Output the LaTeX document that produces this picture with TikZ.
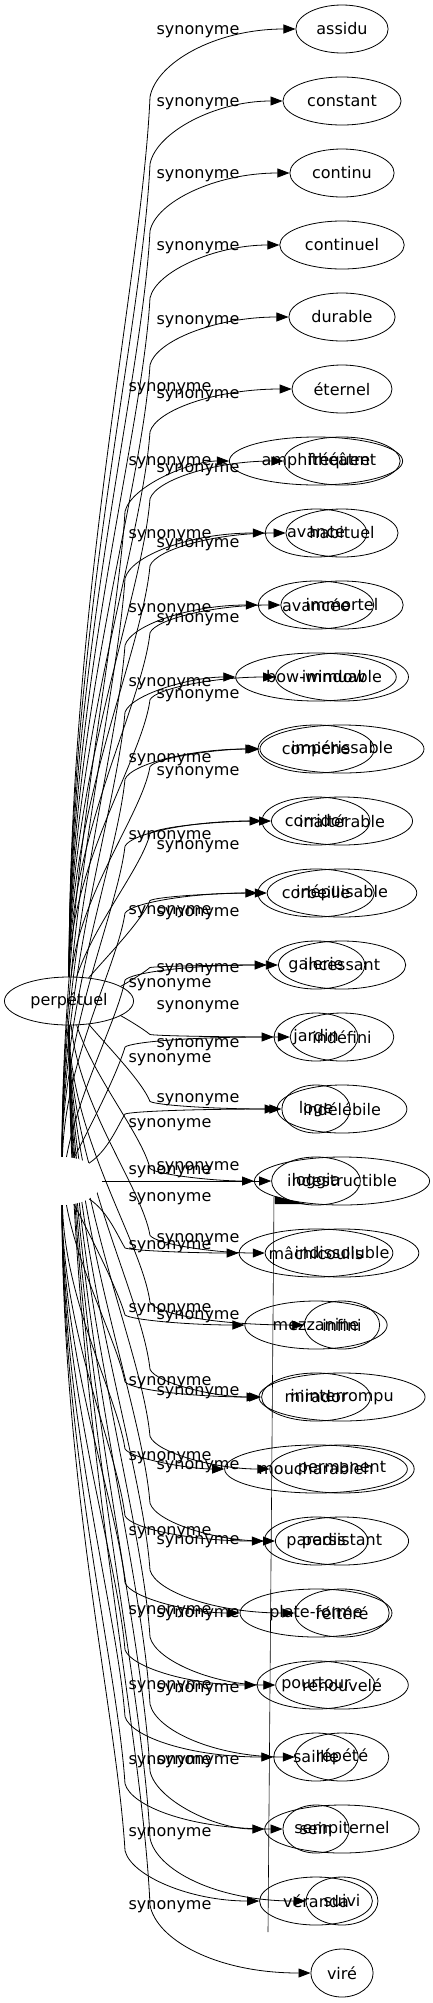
\documentclass[tikz,border=0pt]{standalone}
\usepackage{fontspec}
\setmainfont{DejaVu Sans}
\usetikzlibrary{shapes.geometric,arrows.meta}
\tikzset{
  word/.style={draw, ellipse, line width=0.8pt, minimum height=48pt, inner xsep=7pt, inner ysep=0pt, font=\fontsize{16}{19}\selectfont},
  syn/.style={-{Triangle[length=12pt,width=9pt]}, line width=0.8pt},
  lbl/.style={inner sep=0pt, font=\fontsize{16}{19}\selectfont},
}
\begin{document}
\begin{tikzpicture}[x=1pt,y=-1pt]
\useasboundingbox (0,0) rectangle (432,2003);
% first tree
\node[word] (perp) at (69,1001) {perpétuel};
\foreach \w [count=\k from 0] in {assidu,constant,continu,continuel,durable,éternel,fréquent,habituel,immortel,immuable,impérissable,inaltérable,inépuisable,incessant,indéfini,indélébile,indestructible,indissoluble,infini,ininterrompu,permanent,persistant,réitéré,renouvelé,répété,sempiternel,suivi,viré}
  \node[word] (w\k) at (342,29+72*\k) {\w};
\foreach \k in {0,...,27}{
  \pgfmathsetmacro\ty{29+72*\k}
  \pgfmathsetmacro\dd{\ty-1001}
  \pgfmathsetmacro\my{\ty-0.07*\dd}
  \pgfmathsetmacro\ax{69+60*(1-min(abs(\dd),300)/300)}
  \pgfmathsetmacro\ay{1001+0.45*(\my-1001)}
  \pgfmathsetmacro\by{\my-0.2*(\my-1001)}
  \pgfmathsetmacro\cy{\my-0.5*(\my-\ty)}
  \draw[syn] (perp) .. controls (\ax,\ay) and (142,\by) .. (150,\my)
    .. controls (156,\cy) and (215,\ty) .. (w\k);
}
\foreach \y in {32,104,176,248,322,396,470,545,620,696,773,847,914,970,1007,1045,1100,1168,1240,1317,1393,1467,1542,1615,1690,1762}
  \node[lbl] (la\y) at (198,\y) {synonyme};
% second tree, drawn over the first
\node[ellipse, fill=white, minimum width=80pt, minimum height=48pt] (bal) at (62,1181) {};
\foreach \w [count=\k from 6] in {amphithéâtre,avance,avancée,bow-window,corniche,corridor,corbeille,galerie,jardin,loge,loggia,mâchicoulis,mezzanine,mirador,moucharabieh,paradis,plate-forme,pourtour,saillie,sein,véranda}
  \node[word] (v\k) at (316,29+72*\k) {\w};
\foreach \k in {6,...,26}{
  \pgfmathsetmacro\ty{29+72*\k}
  \pgfmathsetmacro\dd{\ty-1181}
  \pgfmathsetmacro\my{\ty-0.07*\dd}
  \pgfmathsetmacro\ax{62+60*(1-min(abs(\dd),300)/300)}
  \pgfmathsetmacro\ay{1181+0.45*(\my-1181)}
  \pgfmathsetmacro\by{\my-0.2*(\my-1181)}
  \pgfmathsetmacro\cy{\my-0.5*(\my-\ty)}
  \draw[syn] (bal) .. controls (\ax,\ay) and (117,\by) .. (125,\my)
    .. controls (131,\cy) and (190,\ty) .. (v\k);
}
\foreach \y in {389,463,536,610,684,760,837,912,985,1060,1125,1172,1199,1247,1310,1383,1458,1533,1612,1687,1762,1834,1907}
  \node[lbl] (lb\y) at (170,\y) {synonyme};
% stray marks
\draw[line width=0.6pt] (274,1197) -- (268,1932);
\fill (275,1196) -- (306,1204) -- (275,1204) -- cycle;
\end{tikzpicture}
\end{document}
